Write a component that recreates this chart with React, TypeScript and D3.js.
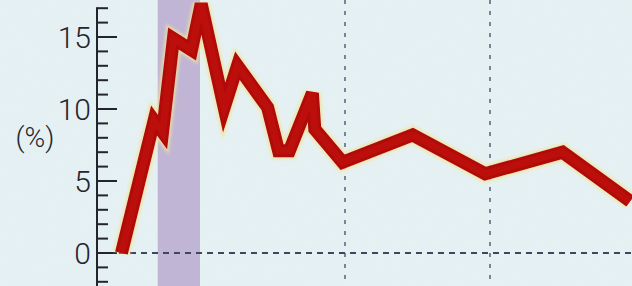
import React from 'react';
import * as d3 from 'd3';

// months counted from an arbitrary start; grid at 24 and 36
const months = [5.5, 8.2, 8.9, 9.8, 11.3, 12.1, 14.0, 15.1, 17.6, 18.5, 19.4, 21.3, 21.5, 23.8, 29.6, 35.6, 42.0, 47.6];
const rates = [0, 9.2, 8.4, 14.9, 14.1, 17.3, 10.1, 13.0, 10.1, 7.1, 7.1, 11.1, 8.6, 6.3, 8.2, 5.5, 7.0, 3.6];
const yTickLabels = [0, 5, 10, 15];
const gridMonths = [24, 36];
const band = [8.5, 12];

const W = 632;
const H = 286;

export default function App() {
  const x = d3.scaleLinear().domain([0, 48]).range([55, 635]);
  const y = d3.scaleLinear().domain([0, 17]).range([253, 8.2]);

  const minorTicks = d3.range(-2, 18);
  const pts: [number, number][] = months.map((m, i) => [x(m), y(rates[i])]);
  const line = d3.line().curve(d3.curveLinear)(pts) || '';
  const axisX = 97;
  const ink = '#22252e';

  return (
    <svg width={W} height={H} style={{ position: 'absolute', left: 0, top: 0, display: 'block' }}>
      <defs>
        <filter id="grain" x="0" y="0" width="100%" height="100%">
          <feTurbulence type="fractalNoise" baseFrequency="0.9" numOctaves={2} seed={3} result="n" />
          <feColorMatrix type="matrix" values="0 0 0 0 0.6  0 0 0 0 0.68  0 0 0 0 0.72  0 0 0 0.3 -0.05" />
        </filter>
        <filter id="glow" x="-10%" y="-10%" width="120%" height="120%">
          <feGaussianBlur stdDeviation="1.5" />
        </filter>
      </defs>
      <rect width={W} height={H} fill="#e6f1f4" />
      <rect width={W} height={H} filter="url(#grain)" opacity={0.35} />

      {/* shaded period */}
      <rect x={x(band[0])} y={0} width={x(band[1]) - x(band[0])} height={H} fill="#bcaed3" opacity={0.9} />

      {/* vertical dashed grid */}
      {gridMonths.map(m => (
        <line key={m} x1={x(m)} x2={x(m)} y1={0} y2={H} stroke="#5a6a86" strokeWidth={1.6} strokeDasharray="4,7" />
      ))}
      {/* zero line */}
      <line x1={axisX} x2={W} y1={y(0)} y2={y(0)} stroke="#3f4660" strokeWidth={2} strokeDasharray="6,5" />

      {/* axis */}
      <line x1={axisX} x2={axisX} y1={y(17) - 1} y2={H} stroke={ink} strokeWidth={2} />
      {minorTicks.map(v => (
        <line key={v} x1={axisX} x2={v % 5 === 0 ? axisX + 20 : axisX + 11} y1={y(v)} y2={y(v)} stroke={ink} strokeWidth={2} />
      ))}
      {yTickLabels.map(v => (
        <text key={v} x={91} y={y(v) + 11} textAnchor="end" fontFamily="Roboto" fontWeight={300} fontSize={30} fill={ink}>{v}</text>
      ))}
      <text x={35} y={147} textAnchor="middle" fontFamily="Roboto" fontWeight={300} fontSize={28} fill={ink}>(%)</text>

      {/* series */}
      <path d={line} fill="none" stroke="#f3e39a" strokeWidth={17} strokeLinejoin="miter" filter="url(#glow)" opacity={0.8} />
      <path d={line} fill="none" stroke="#b00b0b" strokeWidth={13} strokeLinejoin="miter" />
      <path d={line} fill="none" stroke="#c4120e" strokeWidth={7} strokeLinejoin="miter" opacity={0.6} />
    </svg>
  );
}
